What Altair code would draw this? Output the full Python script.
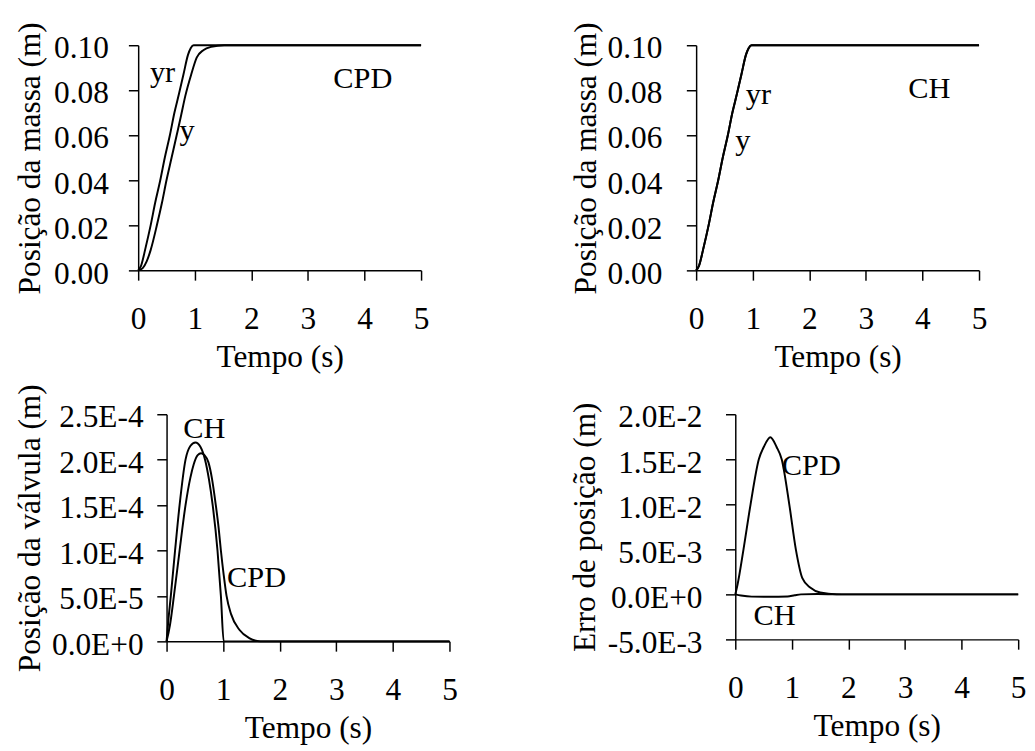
import altair as alt
import pandas as pd

FONT = "Liberation Serif"

# ---------------- data ----------------
x_ticks = [0, 1, 2, 3, 4, 5]
mass_ticks = [0.0, 0.02, 0.04, 0.06, 0.08, 0.10]
valve_ticks = [0.0, 5e-5, 1e-4, 1.5e-4, 2e-4, 2.5e-4]
err_ticks = [-5e-3, 0.0, 5e-3, 1e-2, 1.5e-2, 2e-2]

# reference trajectory yr
yr_t = [0.0, 0.05, 0.13, 0.22, 0.30, 0.39, 0.47, 0.56, 0.64, 0.72, 0.80, 0.88, 0.93, 0.98, 5.0]
yr_v = [0.0, 0.002, 0.010, 0.020, 0.030, 0.040, 0.050, 0.060, 0.070, 0.0783, 0.087, 0.0957, 0.0988, 0.1, 0.1]

# mass position y with CPD controller
cpd_y_t = [0.0, 0.08, 0.15, 0.22, 0.33, 0.42, 0.50, 0.59, 0.68, 0.76, 0.833, 0.937, 1.034, 1.15, 1.29, 1.52, 5.0]
cpd_y_v = [0.0, 0.001, 0.004, 0.009, 0.020, 0.030, 0.040, 0.050, 0.060, 0.069, 0.0775, 0.087, 0.0945, 0.0978, 0.0993, 0.1, 0.1]

# mass position y with CH controller (overlaps yr)
ch_y_t = [0.0, 0.05, 0.13, 0.22, 0.30, 0.39, 0.47, 0.56, 0.64, 0.72, 0.80, 0.88, 0.93, 0.98, 5.0]
ch_y_v = [0.0, 0.002, 0.010, 0.020, 0.030, 0.040, 0.050, 0.060, 0.070, 0.0783, 0.087, 0.0957, 0.0988, 0.1, 0.1]

# valve position
ch_valve_t = [0.0, 0.03, 0.075, 0.15, 0.23, 0.335, 0.42, 0.51, 0.60, 0.68, 0.75, 0.815, 0.90, 0.96, 1.01, 5.0]
ch_valve_v = [0.0, 2.2e-5, 5e-5, 1e-4, 1.5e-4, 2e-4, 2.15e-4, 2.19e-4, 2.14e-4, 2e-4, 1.78e-4, 1.5e-4, 1e-4, 5e-5, 0.0, 0.0]
cpd_valve_t = [0.0, 0.06, 0.13, 0.23, 0.335, 0.42, 0.48, 0.55, 0.61, 0.67, 0.74, 0.80, 0.87, 0.92, 0.96, 1.01, 1.06, 1.14, 1.29, 1.46, 1.66, 5.0]
cpd_valve_v = [0.0, 1.8e-5, 5e-5, 1e-4, 1.5e-4, 1.8e-4, 1.95e-4, 2.05e-4, 2.07e-4, 2.05e-4, 1.97e-4, 1.8e-4, 1.5e-4, 1.25e-4, 1e-4, 7.3e-5, 5e-5, 3e-5, 1.25e-5, 3.6e-6, 0.0, 0.0]

# position error
cpd_err_t = [0.0, 0.04, 0.145, 0.27, 0.416, 0.503, 0.62, 0.73, 0.82, 0.954, 1.07, 1.185, 1.33, 1.5, 1.79, 5.0]
cpd_err_v = [0.0, 0.0011, 0.005, 0.010, 0.015, 0.01636, 0.01745, 0.01636, 0.015, 0.010, 0.005, 0.0018, 0.00073, 0.0002, 0.0, 0.0]
ch_err_t = [0.0, 0.1, 0.29, 0.6, 0.925, 1.05, 1.16, 1.45, 2.0, 5.0]
ch_err_v = [0.0, -1.2e-4, -2.5e-4, -2.7e-4, -2.4e-4, -1e-4, 0.0, 5e-5, 0.0, 0.0]

# in-plot labels: text, time, value
ann1_text = ["yr", "y", "CPD"]
ann1_t = [0.43, 0.865, 3.97]
ann1_v = [0.0837, 0.058, 0.0812]
ann2_text = ["yr", "y", "CH"]
ann2_t = [1.10, 0.825, 4.12]
ann2_v = [0.0739, 0.0536, 0.0764]
ann3_text = ["CH", "CPD"]
ann3_t = [0.667, 1.59]
ann3_v = [2.237e-4, 6.01e-5]
ann4_text = ["CPD", "CH"]
ann4_t = [1.343, 0.693]
ann4_v = [0.01327, -0.003375]

X_TITLE = "Tempo (s)"
SCI = "replace(replace(upper(format(datum.value, '.1e')), '\u2212', '-'), '\u2212', '-')"

PLOT_W = 289


def series(*parts):
    rows = []
    for name, ts, vs in parts:
        for t, v in zip(ts, vs):
            rows.append({"t": t, "v": v, "s": name})
    return pd.DataFrame(rows)


def ann(texts, ts, vs):
    return pd.DataFrame({"label": texts, "t": ts, "v": vs})


def panel(lines, notes, y_title, y_ticks, y_dom, lp, tp, h, fmt=None, expr=None, shift=0):
    yaxis_kw = dict(title=y_title, values=y_ticks, labelPadding=lp, titlePadding=tp,
                    labelOffset=3, tickSize=10)
    if shift:
        yaxis_kw["offset"] = -shift
    if fmt is not None:
        yaxis_kw["format"] = fmt
    if expr is not None:
        yaxis_kw["labelExpr"] = expr
    xscale = alt.Scale(domain=[0, 5], nice=False, range=[shift, shift + PLOT_W])
    xs = alt.X("t:Q", scale=xscale,
               axis=alt.Axis(title=X_TITLE, values=x_ticks, format="d", labelFlush=False,
                             labelPadding=24.5, titlePadding=8, tickSize=10))
    ys = alt.Y("v:Q", scale=alt.Scale(domain=y_dom, nice=False, zero=False),
               axis=alt.Axis(**yaxis_kw))
    line = alt.Chart(lines).mark_line(color="black", strokeWidth=2, interpolate="monotone").encode(
        x=xs, y=ys, detail="s:N")
    text = alt.Chart(notes).mark_text(font=FONT, fontSize=31, color="black", align="center",
                                      baseline="alphabetic").encode(
        x=alt.X("t:Q"), y=alt.Y("v:Q"), text="label:N")
    return alt.layer(line, text).properties(width=PLOT_W + shift, height=h)


p1 = panel(series(("yr", yr_t, yr_v), ("y", cpd_y_t, cpd_y_v)), ann(ann1_text, ann1_t, ann1_v),
           "Posição da massa (m)", mass_ticks, [0, 0.1], 20.5, 7, 230, fmt=".2f")
p2 = panel(series(("yr", yr_t, yr_v), ("y", ch_y_t, ch_y_v)), ann(ann2_text, ann2_t, ann2_v),
           "Posição da massa (m)", mass_ticks, [0, 0.1], 25, 4.5, 230, fmt=".2f")
p3 = panel(series(("CH", ch_valve_t, ch_valve_v), ("CPD", cpd_valve_t, cpd_valve_v)),
           ann(ann3_text, ann3_t, ann3_v),
           "Posição da válvula (m)", valve_ticks, [0, 2.5e-4], 14, 5, 232, expr=SCI, shift=29)
p4 = panel(series(("CPD", cpd_err_t, cpd_err_v), ("CH", ch_err_t, ch_err_v)),
           ann(ann4_text, ann4_t, ann4_v),
           "Erro de posição (m)", err_ticks, [-5e-3, 2e-2], 24, 6, 230, expr=SCI)

top_row = alt.hconcat(p1, p2, spacing=143)
bottom_row = alt.hconcat(p3, p4, spacing=112)

chart = alt.vconcat(top_row, bottom_row, spacing=10).properties(
    padding={"left": 5, "top": 5, "right": 0, "bottom": 0}
).configure_axis(
    labelFont=FONT, titleFont=FONT, labelFontSize=32, titleFontSize=32,
    titleFontWeight="normal", labelColor="black", titleColor="black",
    domainColor="black", tickColor="black", domainWidth=1.5, tickWidth=1.5,
    grid=False, labelOverlap=False
).configure_view(stroke="transparent")

chart.save("out.html", embed_options={"renderer": "svg", "actions": False})
